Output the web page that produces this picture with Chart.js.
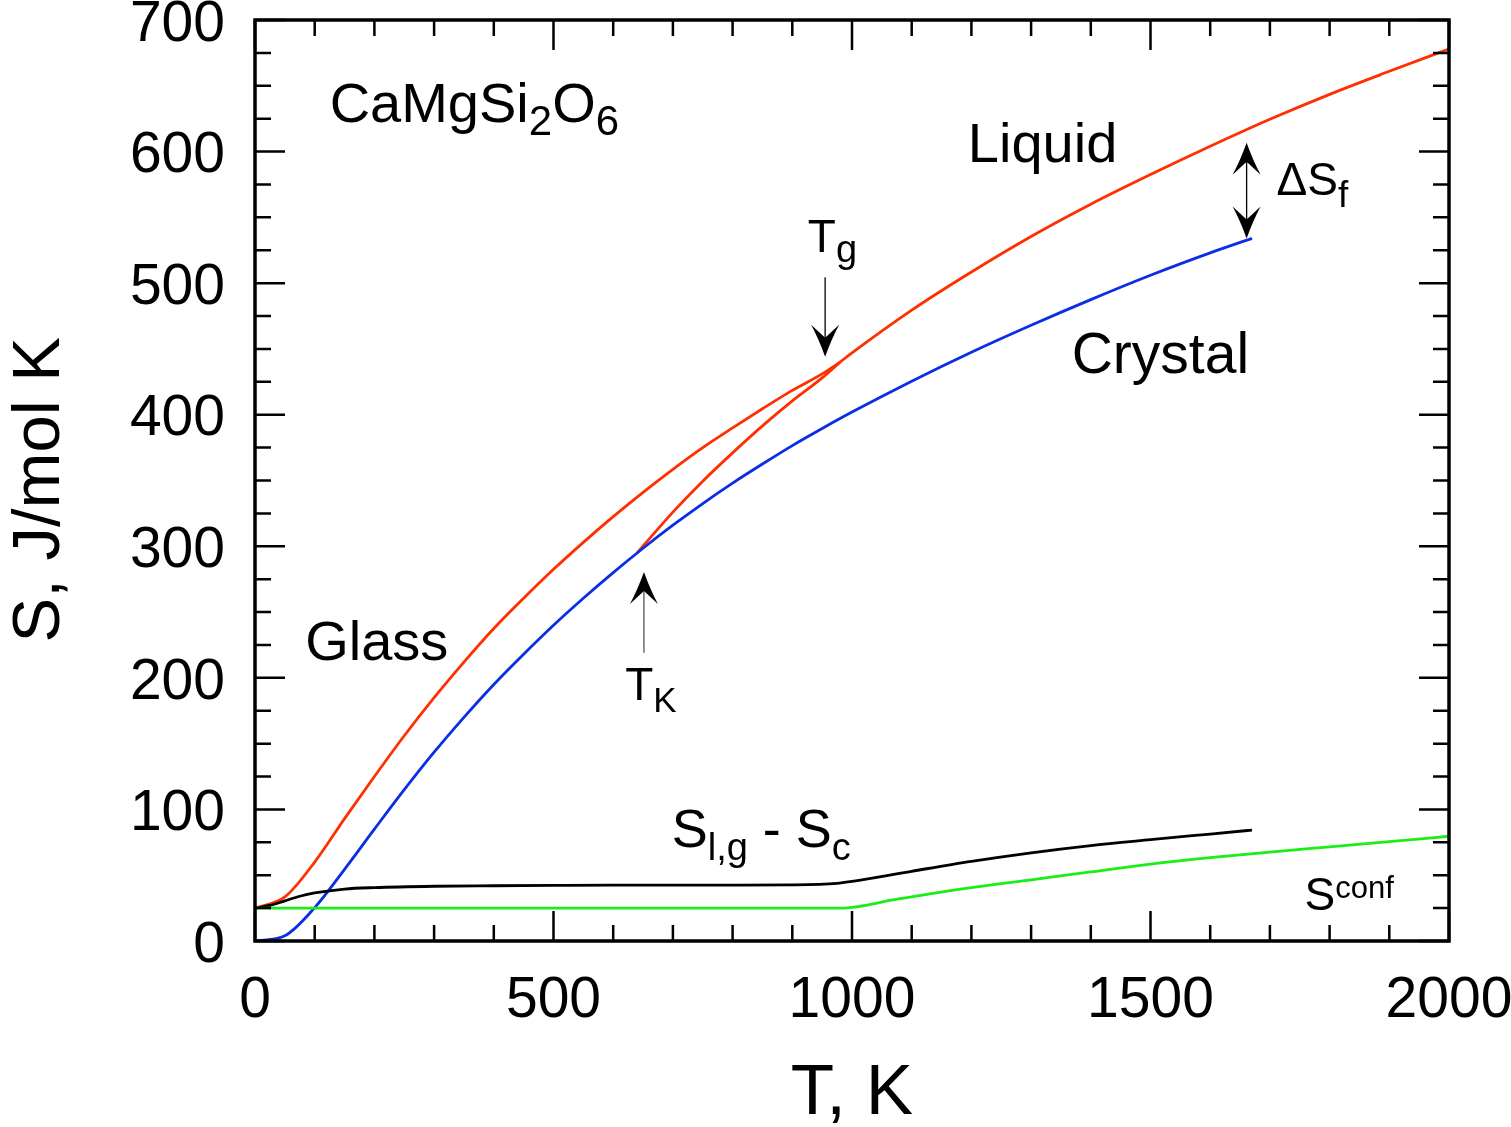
<!DOCTYPE html>
<html>
<head>
<meta charset="utf-8">
<script src="https://cdn.jsdelivr.net/npm/chart.js@4.4.0/dist/chart.umd.min.js"></script>
<style>
  html, body { margin: 0; padding: 0; background: #fff; }
  #wrap { width: 1511px; height: 1127px; }
</style>
</head>
<body>
<div id="wrap"><canvas id="chart" width="1511" height="1127"></canvas></div>
<script>
// -----------------------------
// Data (T in K, S in J/mol K)
// -----------------------------
const glassT = [0, 50, 100, 150, 200, 250, 300, 350, 400, 450, 500, 550, 600, 650, 700, 750, 800, 850, 900, 950, 980];
const glassS = [25, 33.5, 60, 93, 125, 156, 185, 212, 237.5, 260.5, 282.5, 303, 322.5, 341, 358.5, 375, 390, 404.5, 418.5, 431, 440];

const liquidT = [980, 1000, 1100, 1200, 1300, 1400, 1500, 1600, 1700, 1800, 1900, 2000];
const liquidS = [440, 447, 479.5, 508.5, 535.5, 560, 582.5, 604, 624.5, 643.5, 661, 678];

// supercooled liquid, from T_K up to T_g
const superT = [640, 700, 750, 800, 850, 900, 950, 980];
const superS = [295, 326, 349.5, 371, 391.5, 410.5, 428, 440];

const crystalT = [0, 50, 100, 150, 200, 250, 300, 350, 400, 450, 500, 550, 600, 650, 700, 750, 800, 850, 900, 950, 1000, 1100, 1200, 1300, 1400, 1500, 1600, 1670];
const crystalS = [0, 4, 25.4, 54.5, 85, 115, 143.5, 170, 195, 218, 240, 260.5, 280, 298.5, 316, 332.5, 348, 362.5, 376.5, 389.5, 402, 425.5, 447.5, 468, 487.5, 506, 523, 534];

// S(liquid/glass) - S(crystal)
const diffT = [0, 25, 50, 75, 100, 150, 200, 300, 400, 500, 600, 700, 800, 900, 975, 1000, 1100, 1200, 1300, 1400, 1500, 1600, 1670];
const diffS = [25, 27, 30.5, 34, 36.5, 39.5, 40.6, 41.6, 42, 42.3, 42.5, 42.5, 42.4, 42.6, 43.8, 45.3, 53, 60.5, 67, 72.5, 77, 81.3, 84.3];

// configurational entropy
const confT = [0, 980, 1080, 1200, 1300, 1400, 1500, 1600, 1700, 1800, 1900, 2000];
const confS = [25, 25, 32.2, 40.5, 46.5, 52.5, 58.4, 63.3, 67.6, 71.5, 75.5, 79.6];

// axes
const xMin = 0, xMax = 2000, xMajor = 500, xMinor = 100;
const yMin = 0, yMax = 700, yMajor = 100, yMinor = 25;

const FONT = '"Liberation Sans", Arial, Helvetica, sans-serif';

const pts = (xs, ys) => xs.map((t, i) => ({ x: t, y: ys[i] }));

// -----------------------------
// Frame with inward ticks on all four sides
// -----------------------------
const frameTicks = {
    id: 'frameTicks',
    afterDatasetsDraw(chart) {
        const { ctx, chartArea: a, scales: { x, y } } = chart;
        ctx.save();
        ctx.strokeStyle = '#000';
        ctx.lineWidth = 2.5;
        ctx.beginPath();
        for (let t = xMin; t <= xMax; t += xMinor) {
            const px = x.getPixelForValue(t);
            const len = t % xMajor === 0 ? 30 : 16;
            ctx.moveTo(px, a.bottom); ctx.lineTo(px, a.bottom - len);
            ctx.moveTo(px, a.top); ctx.lineTo(px, a.top + len);
        }
        for (let s = yMin; s <= yMax; s += yMinor) {
            const py = y.getPixelForValue(s);
            const len = s % yMajor === 0 ? 30 : 16;
            ctx.moveTo(a.left, py); ctx.lineTo(a.left + len, py);
            ctx.moveTo(a.right, py); ctx.lineTo(a.right - len, py);
        }
        ctx.stroke();
        ctx.lineWidth = 3.5;
        ctx.strokeRect(a.left, a.top, a.right - a.left, a.bottom - a.top);
        ctx.restore();
    }
};

// -----------------------------
// Labels and arrows, placed in data coordinates
// -----------------------------
// parts: [text, font size, baseline shift]
const labels = [
    { t: 125, s: 622.5, parts: [['CaMgSi', 56, 0], ['2', 42, 13], ['O', 56, 0], ['6', 42, 13]] },
    { t: 1194, s: 592, parts: [['Liquid', 56, 0]] },
    { t: 1368, s: 431.7, parts: [['Crystal', 57, 0]] },
    { t: 84, s: 213.6, parts: [['Glass', 56, 0]] },
    { t: 926, s: 523.5, parts: [['T', 46, 0], ['g', 38, 10]] },
    { t: 620, s: 183.2, parts: [['T', 46, 0], ['K', 35, 12]] },
    { t: 1711, s: 567, parts: [['\u0394S', 46, 0], ['f', 37, 12]] },
    { t: 698, s: 71.5, parts: [['S', 54, 0], ['l,g', 38, 13], [' - S', 54, 0], ['c', 38, 13]] },
    { t: 1758, s: 23.6, parts: [['S', 46, 0], ['conf', 31, -12]] }
];

// arrows: x position and start/tip values (data units)
const arrows = [
    { t: 955, from: 504.5, to: 444, color: '#000', width: 1.3, both: false },
    { t: 651.5, from: 219, to: 280.5, color: '#555', width: 1.3, both: false },
    { t: 1661, from: 570, to: 534, color: '#000', width: 1.3, both: true, to2: 606.7 }
];

function arrowHead(ctx, x, tipY, dir) {
    // dir = +1 points down, -1 points up
    const L = 32, W = 14, N = 19;
    ctx.beginPath();
    ctx.moveTo(x, tipY);
    ctx.quadraticCurveTo(x - W * 0.45, tipY - dir * L * 0.55, x - W, tipY - dir * L);
    ctx.lineTo(x, tipY - dir * N);
    ctx.lineTo(x + W, tipY - dir * L);
    ctx.quadraticCurveTo(x + W * 0.45, tipY - dir * L * 0.55, x, tipY);
    ctx.closePath();
    ctx.fill();
}

const annotations = {
    id: 'annotations',
    afterDraw(chart) {
        const { ctx, scales: { x, y } } = chart;
        ctx.save();
        ctx.fillStyle = '#000';
        ctx.textBaseline = 'alphabetic';
        ctx.textAlign = 'left';
        labels.forEach(l => {
            let px = x.getPixelForValue(l.t);
            const py = y.getPixelForValue(l.s);
            l.parts.forEach(([txt, size, dy]) => {
                ctx.font = size + 'px ' + FONT;
                ctx.fillText(txt, px, py + dy);
                px += ctx.measureText(txt).width;
            });
        });
        arrows.forEach(a => {
            const px = x.getPixelForValue(a.t);
            const y0 = y.getPixelForValue(a.from);
            const y1 = y.getPixelForValue(a.to);
            ctx.strokeStyle = a.color;
            ctx.lineWidth = a.width;
            ctx.beginPath();
            if (a.both) {
                const y2 = y.getPixelForValue(a.to2);
                ctx.moveTo(px, y1 - 15); ctx.lineTo(px, y2 + 15);
                ctx.stroke();
                arrowHead(ctx, px, y1, 1);
                arrowHead(ctx, px, y2, -1);
            } else {
                const dir = y1 > y0 ? 1 : -1;
                ctx.moveTo(px, y0); ctx.lineTo(px, y1 - dir * 15);
                ctx.stroke();
                arrowHead(ctx, px, y1, dir);
            }
        });
        ctx.restore();
    }
};

// -----------------------------
// Chart
// -----------------------------
const line = (data, color) => ({
    data,
    borderColor: color,
    borderWidth: 2.8,
    pointRadius: 0,
    fill: false,
    cubicInterpolationMode: 'monotone'
});

new Chart(document.getElementById('chart'), {
    type: 'line',
    data: {
        datasets: [
            line(pts(confT, confS), '#19ee19'),
            line(pts(diffT, diffS), '#000000'),
            line(pts(crystalT, crystalS), '#0a2ee6'),
            line(pts(superT, superS), '#ff2f00'),
            line(pts(glassT, glassS), '#ff2f00'),
            line(pts(liquidT, liquidS), '#ff2f00')
        ]
    },
    options: {
        responsive: false,
        animation: false,
        layout: { padding: { top: 20, right: 62, left: 0, bottom: 0 } },
        plugins: { legend: { display: false }, tooltip: { enabled: false } },
        scales: {
            x: {
                type: 'linear',
                min: xMin, max: xMax,
                grid: { display: false, drawTicks: false },
                border: { display: false },
                ticks: {
                    stepSize: xMajor, maxRotation: 0, autoSkip: false,
                    color: '#000', padding: 26,
                    font: { family: FONT, size: 57 },
                    callback: v => String(v)
                },
                title: {
                    display: true, text: 'T, K', color: '#000',
                    font: { family: FONT, size: 71 }, padding: { top: 0, bottom: -10 }
                },
                afterFit(s) {
                    s.height = 186;
                    s.paddingLeft = 0; s.paddingRight = 0;
                }
            },
            y: {
                min: yMin, max: yMax,
                grid: { display: false, drawTicks: false },
                border: { display: false },
                ticks: {
                    stepSize: yMajor, autoSkip: false,
                    color: '#000', padding: 30, labelOffset: 5,
                    font: { family: FONT, size: 57 }
                },
                title: {
                    display: true, text: 'S, J/mol K ', color: '#000',
                    font: { family: FONT, size: 67 }, padding: 0
                },
                afterFit(s) {
                    s.width = 255;
                    s.paddingTop = 0; s.paddingBottom = 0;
                }
            }
        }
    },
    plugins: [frameTicks, annotations]
});
</script>
</body>
</html>
